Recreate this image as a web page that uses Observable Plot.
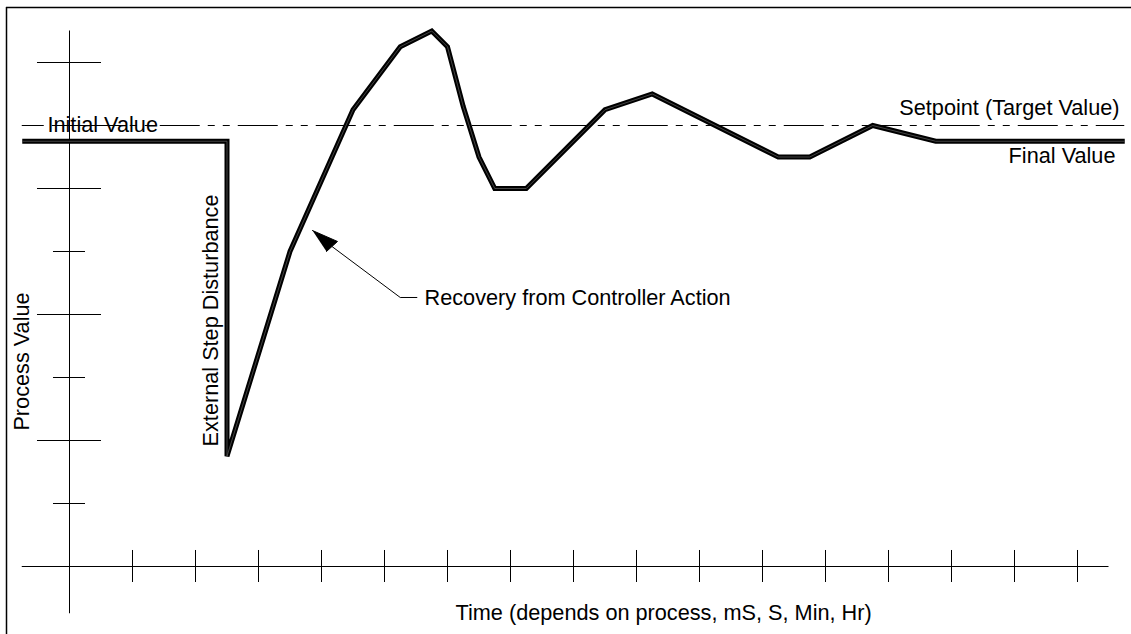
<!DOCTYPE html>
<html>
<head>
<meta charset="utf-8">
<script src="https://cdn.jsdelivr.net/npm/d3@7"></script>
<script src="https://cdn.jsdelivr.net/npm/@observablehq/plot@0.6"></script>
<style>
  html, body { margin: 0; padding: 0; background: #fff; }
  #chart { width: 1131px; height: 634px; overflow: hidden; }
</style>
</head>
<body>
<div id="chart"></div>
<script>
// ---- data (chart units: 1 unit = one grid tick) ----
const timeVals    = [-0.75, 2.5, 2.5, 3.5, 4.5, 5.25, 5.75, 6.0, 6.25, 6.5, 6.75, 7.25, 8.5, 9.25, 11.25, 11.75, 12.75, 13.75, 16.75];
const processVals = [6.75, 6.75, 1.75, 5.0, 7.25, 8.25, 8.5, 8.25, 7.3, 6.5, 6.0, 6.0, 7.25, 7.5, 6.5, 6.5, 7.0, 6.75, 6.75];
const setpointValue = 7;
const setpointSpan = [-0.75, 16.75];
const xTickVals = [1, 2, 3, 4, 5, 6, 7, 8, 9, 10, 11, 12, 13, 14, 15, 16];
const yTickVals = [1, 2, 3, 4, 5, 6, 7, 8];
const xAxisSpan = [-0.75, 16.5];
const yAxisSpan = [-0.75, 8.5];
const arrowShaftX = [5.52, 5.25, 4.167];
const arrowShaftY = [4.27, 4.27, 5.079];
const arrowHeadX = [3.857, 4.254, 4.079];
const arrowHeadY = [5.333, 5.159, 5.0];
const startLabels = [
  {text: "Initial Value", x: -0.35, y: 6.889},
  {text: "Recovery from Controller Action", x: 5.635, y: 4.143},
  {text: "Time (depends on process, mS, S, Min, Hr)", x: 6.127, y: -0.857}
];
const endLabels = [
  {text: "Setpoint (Target Value)", x: 16.667, y: 7.159},
  {text: "Final Value", x: 16.603, y: 6.397}
];
const vLabels = [
  {text: "Process Value", x: -0.635, y: 3.254},
  {text: "External Step Disturbance", x: 2.365, y: 3.905}
];

const curve = timeVals.map((t, i) => ({t, v: processVals[i]}));
const shaft = arrowShaftX.map((x, i) => ({x, y: arrowShaftY[i]}));
const head = arrowHeadX.map((x, i) => ({x, y: arrowHeadY[i]}));

const font = "'Liberation Sans', Arial, Helvetica, sans-serif";
const lineStyle = {strokeLinejoin: "miter", strokeMiterlimit: 4, strokeLinecap: "butt", curve: "linear"};

const chart = Plot.plot({
  width: 1131,
  height: 634,
  margin: 0,
  x: {domain: [0, 16], range: [69, 1077], axis: null},
  y: {domain: [0, 8], range: [566, 62], axis: null},
  style: {fontFamily: font, fontSize: "21.7px", background: "#fff"},
  marks: [
    // page border (top and left)
    Plot.ruleY([8.873], {x1: -1, x2: 17.2, stroke: "#000", strokeWidth: 1.5}),
    Plot.ruleX([-1], {y1: -1.2, y2: 8.873, stroke: "#000", strokeWidth: 1.5}),
    // axes
    Plot.ruleX([0], {y1: yAxisSpan[0], y2: yAxisSpan[1], stroke: "#000", strokeWidth: 1}),
    Plot.ruleY([0], {x1: xAxisSpan[0], x2: xAxisSpan[1], stroke: "#000", strokeWidth: 1}),
    Plot.ruleY(yTickVals, {x1: d => d % 2 === 0 ? -0.508 : -0.254, x2: d => d % 2 === 0 ? 0.508 : 0.254, stroke: "#000", strokeWidth: 1}),
    Plot.ruleX(xTickVals, {y1: -0.254, y2: 0.254, stroke: "#000", strokeWidth: 1}),
    // setpoint dash-dot-dot line
    Plot.ruleY([setpointValue], {x1: setpointSpan[0], x2: setpointSpan[1], stroke: "#000", strokeWidth: 1, strokeDasharray: "40 8 7 8 7 8", strokeDashoffset: 18}),
    // process curve
    Plot.line(curve, {x: "t", y: "v", stroke: "#000", strokeWidth: 5, ...lineStyle}),
    Plot.line(curve, {x: "t", y: "v", stroke: "#555", strokeWidth: 0.8, ...lineStyle}),
    // annotation arrow
    Plot.line(shaft, {x: "x", y: "y", stroke: "#000", strokeWidth: 1, strokeLinejoin: "miter", strokeLinecap: "butt"}),
    Plot.line(head, {x: "x", y: "y", stroke: "#000", strokeWidth: 1, fill: "#000", strokeLinejoin: "miter"}),
    // labels
    Plot.text(startLabels, {x: "x", y: "y", text: "text", textAnchor: "start", lineAnchor: "bottom", fill: "#000", fontSize: 21.7}),
    Plot.text(endLabels, {x: "x", y: "y", text: "text", textAnchor: "end", lineAnchor: "bottom", fill: "#000", fontSize: 21.7}),
    Plot.text(vLabels, {x: "x", y: "y", text: "text", rotate: -90, textAnchor: "middle", lineAnchor: "bottom", fill: "#000", fontSize: 21.7})
  ]
});
document.getElementById("chart").appendChild(chart);
</script>
</body>
</html>
